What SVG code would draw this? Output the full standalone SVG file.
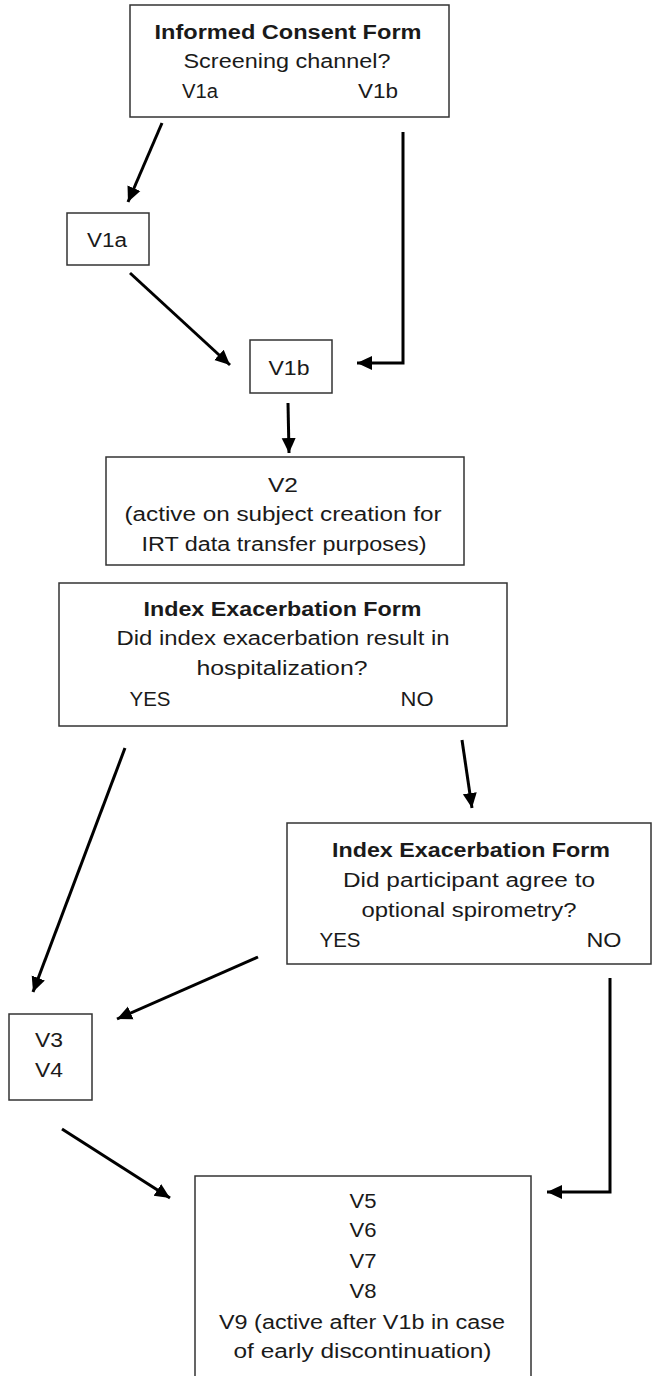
<svg xmlns="http://www.w3.org/2000/svg" width="652" height="1376" viewBox="0 0 652 1376">
<style>
.box{fill:#fff;stroke:#333;stroke-width:1.5}
.t{font-family:"Liberation Sans",Arial,sans-serif;font-size:20px;fill:#1a1a1a;text-anchor:middle}
.b{font-weight:700}
.c{fill:none;stroke:#000;stroke-width:3;stroke-linejoin:miter}
</style>
<defs>
<marker id="ah" markerUnits="userSpaceOnUse" markerWidth="18" markerHeight="16" refX="15" refY="7" orient="auto" viewBox="0 0 18 14">
<path d="M0,0 L15,7 L0,14 Z" fill="#000"/>
</marker>
</defs>
<rect width="652" height="1376" fill="#fff"/>
<g id="connectors">
<line class="c" x1="162" y1="123" x2="128" y2="202" marker-end="url(#ah)"/>
<polyline class="c" points="403,132 403,363 357,363" marker-end="url(#ah)"/>
<line class="c" x1="130" y1="273" x2="230" y2="365" marker-end="url(#ah)"/>
<line class="c" x1="288" y1="403" x2="289" y2="453" marker-end="url(#ah)"/>
<line class="c" x1="125" y1="748" x2="33" y2="992" marker-end="url(#ah)"/>
<line class="c" x1="462" y1="740" x2="472" y2="808" marker-end="url(#ah)"/>
<line class="c" x1="258" y1="957" x2="117" y2="1019" marker-end="url(#ah)"/>
<polyline class="c" points="610,978 610,1192 547,1192" marker-end="url(#ah)"/>
<line class="c" x1="62" y1="1129" x2="170" y2="1198" marker-end="url(#ah)"/>
</g>
<g id="consent">
<rect class="box" x="130" y="5" width="319" height="112"/>
<text class="t b" x="288" y="39" textLength="267" lengthAdjust="spacingAndGlyphs">Informed Consent Form</text>
<text class="t" x="287" y="68" textLength="207" lengthAdjust="spacingAndGlyphs">Screening channel?</text>
<text class="t" x="200" y="98" textLength="36" lengthAdjust="spacingAndGlyphs">V1a</text>
<text class="t" x="378" y="98" textLength="40" lengthAdjust="spacingAndGlyphs">V1b</text>
</g>
<g id="v1a">
<rect class="box" x="67" y="213" width="82" height="52"/>
<text class="t" x="107" y="247" textLength="40" lengthAdjust="spacingAndGlyphs">V1a</text>
</g>
<g id="v1b">
<rect class="box" x="250" y="340" width="82" height="53"/>
<text class="t" x="289" y="375" textLength="41" lengthAdjust="spacingAndGlyphs">V1b</text>
</g>
<g id="v2">
<rect class="box" x="106" y="457" width="358" height="108"/>
<text class="t" x="283" y="492" textLength="30" lengthAdjust="spacingAndGlyphs">V2</text>
<text class="t" x="283" y="521" textLength="317" lengthAdjust="spacingAndGlyphs">(active on subject creation for</text>
<text class="t" x="284" y="551" textLength="285" lengthAdjust="spacingAndGlyphs">IRT data transfer purposes)</text>
</g>
<g id="index1">
<rect class="box" x="59" y="583" width="448" height="143"/>
<text class="t b" x="282.5" y="616" textLength="278" lengthAdjust="spacingAndGlyphs">Index Exacerbation Form</text>
<text class="t" x="283" y="645" textLength="333" lengthAdjust="spacingAndGlyphs">Did index exacerbation result in</text>
<text class="t" x="282" y="675" textLength="171" lengthAdjust="spacingAndGlyphs">hospitalization?</text>
<text class="t" x="150" y="706" textLength="41" lengthAdjust="spacingAndGlyphs">YES</text>
<text class="t" x="417" y="706" textLength="33" lengthAdjust="spacingAndGlyphs">NO</text>
</g>
<g id="index2">
<rect class="box" x="287" y="823" width="364" height="141"/>
<text class="t b" x="471" y="857" textLength="278" lengthAdjust="spacingAndGlyphs">Index Exacerbation Form</text>
<text class="t" x="469" y="887" textLength="252" lengthAdjust="spacingAndGlyphs">Did participant agree to</text>
<text class="t" x="469" y="917" textLength="215" lengthAdjust="spacingAndGlyphs">optional spirometry?</text>
<text class="t" x="340" y="947" textLength="41" lengthAdjust="spacingAndGlyphs">YES</text>
<text class="t" x="604" y="947" textLength="35" lengthAdjust="spacingAndGlyphs">NO</text>
</g>
<g id="v3v4">
<rect class="box" x="9" y="1014" width="83" height="86"/>
<text class="t" x="49" y="1047" textLength="28" lengthAdjust="spacingAndGlyphs">V3</text>
<text class="t" x="49" y="1077" textLength="28" lengthAdjust="spacingAndGlyphs">V4</text>
</g>
<g id="v5v9">
<rect class="box" x="195" y="1176" width="336" height="210"/>
<text class="t" x="363" y="1208" textLength="27" lengthAdjust="spacingAndGlyphs">V5</text>
<text class="t" x="363" y="1237" textLength="27" lengthAdjust="spacingAndGlyphs">V6</text>
<text class="t" x="363" y="1268" textLength="27" lengthAdjust="spacingAndGlyphs">V7</text>
<text class="t" x="363" y="1298" textLength="27" lengthAdjust="spacingAndGlyphs">V8</text>
<text class="t" x="362" y="1329" textLength="286" lengthAdjust="spacingAndGlyphs">V9 (active after V1b in case</text>
<text class="t" x="362.5" y="1358" textLength="258" lengthAdjust="spacingAndGlyphs">of early discontinuation)</text>
</g>
</svg>
